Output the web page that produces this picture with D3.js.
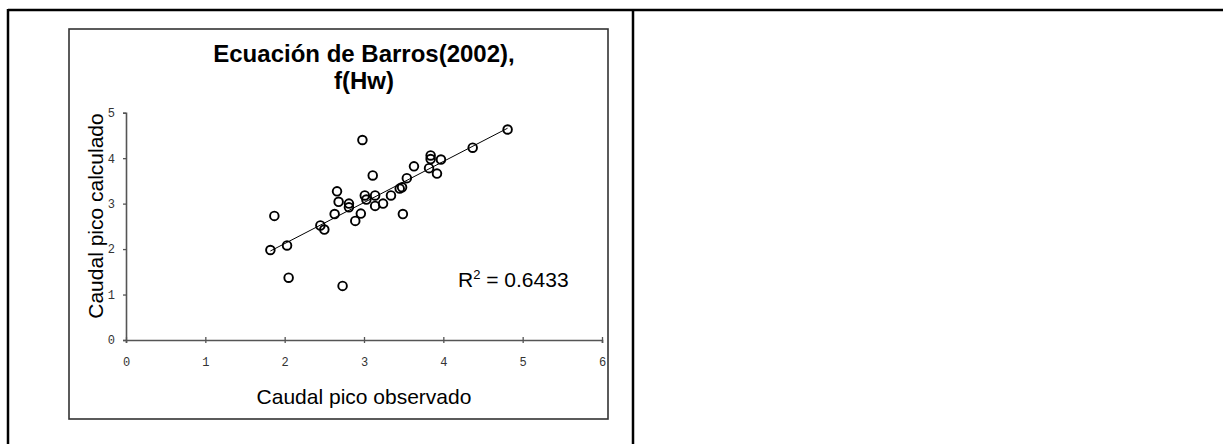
<!DOCTYPE html>
<html>
<head>
<meta charset="utf-8">
<script src="https://cdn.jsdelivr.net/npm/d3@7"></script>
<style>
  body { margin: 0; background: #fff; }
  svg { display: block; }
</style>
</head>
<body>
<svg width="1223" height="444"></svg>
<script>
// caudal pico observado (x) vs calculado (y)
var observado = [1.82, 1.87, 2.03, 2.05, 2.45, 2.50, 2.63, 2.66, 2.68, 2.73,
  2.81, 2.81, 2.89, 2.96, 2.98, 3.01, 3.03, 3.11, 3.14, 3.14,
  3.24, 3.34, 3.45, 3.48, 3.49, 3.54, 3.63, 3.82, 3.84, 3.84,
  3.92, 3.97, 4.37, 4.81];
var calculado = [1.98, 2.73, 2.08, 1.37, 2.52, 2.43, 2.77, 3.27, 3.04, 1.19,
  3.00, 2.92, 2.62, 2.78, 4.40, 3.18, 3.09, 3.62, 3.18, 2.95,
  3.00, 3.18, 3.33, 3.36, 2.77, 3.56, 3.82, 3.78, 4.06, 3.98,
  3.66, 3.97, 4.23, 4.63];
var xTicks = [0, 1, 2, 3, 4, 5, 6];
var yTicks = [0, 1, 2, 3, 4, 5];
var titleLines = ["Ecuación de Barros(2002),", "f(Hw)"];
var r2Text = "0.6433";

var svg = d3.select("svg");
var sans = "'Liberation Sans', Arial, sans-serif";

// page frame (table lines)
svg.append("line").attr("x1", 8).attr("x2", 1223).attr("y1", 10).attr("y2", 10)
  .attr("stroke", "#000").attr("stroke-width", 2.5);
svg.append("line").attr("x1", 8).attr("x2", 8).attr("y1", 9).attr("y2", 444)
  .attr("stroke", "#000").attr("stroke-width", 2.5);
svg.append("line").attr("x1", 633).attr("x2", 633).attr("y1", 9).attr("y2", 444)
  .attr("stroke", "#000").attr("stroke-width", 2.5);

// chart box
svg.append("rect")
  .attr("x", 69).attr("y", 29).attr("width", 539).attr("height", 390)
  .attr("fill", "#fff").attr("stroke", "#333").attr("stroke-width", 1.6);

var x = d3.scaleLinear().domain([0, 6]).range([126, 602]),
  y = d3.scaleLinear().domain([0, 5]).range([340, 112.7]);

var xAxis = d3.axisBottom(x).tickValues(xTicks).tickFormat(d3.format("d"))
    .tickSize(3).tickPadding(14),
  yAxis = d3.axisLeft(y).tickValues(yTicks).tickFormat(d3.format("d"))
    .tickSize(3).tickPadding(8);

var gx = svg.append("g").attr("transform", "translate(0," + y(0) + ")").call(xAxis);
var gy = svg.append("g").attr("transform", "translate(" + x(0) + ",0)").call(yAxis);

[gx, gy].forEach(function(g) {
  g.select(".domain").attr("stroke", "#555").attr("stroke-width", 1.6);
  g.selectAll(".tick line").attr("stroke", "#555").attr("stroke-width", 1.3);
  g.selectAll(".tick text")
    .attr("fill", "#333")
    .style("font-family", "'Liberation Mono', 'DejaVu Sans Mono', monospace")
    .style("font-size", "12px");
});
// x ticks cross the axis
gx.selectAll(".tick line").attr("y1", -3);

// linear trend (least squares) over the observed range
var mx = d3.mean(observado), my = d3.mean(calculado);
var sxy = d3.sum(observado, function(v, i) { return (v - mx) * (calculado[i] - my); });
var sxx = d3.sum(observado, function(v) { return (v - mx) * (v - mx); });
var slope = sxy / sxx, intercept = my - slope * mx;
var xr = d3.extent(observado);

svg.append("line")
  .attr("x1", x(xr[0])).attr("y1", y(intercept + slope * xr[0]))
  .attr("x2", x(xr[1])).attr("y2", y(intercept + slope * xr[1]))
  .attr("stroke", "#000").attr("stroke-width", 1);

svg.append("g").selectAll("circle")
  .data(observado)
  .enter()
  .append("circle")
  .attr("cx", function(d) { return x(d); })
  .attr("cy", function(d, i) { return y(calculado[i]); })
  .attr("r", 4.3)
  .attr("fill", "none")
  .attr("stroke", "#000")
  .attr("stroke-width", 1.9);

// title
svg.append("text")
  .attr("text-anchor", "middle")
  .style("font-family", sans)
  .style("font-size", "24px").style("font-weight", "bold")
  .selectAll("tspan")
  .data(titleLines)
  .enter()
  .append("tspan")
  .attr("x", 364)
  .attr("y", function(d, i) { return 62 + i * 27; })
  .text(function(d) { return d; });

// axis titles
svg.append("text")
  .attr("x", 364).attr("y", 404).attr("text-anchor", "middle")
  .style("font-family", sans)
  .style("font-size", "21px")
  .text("Caudal pico observado");

svg.append("text")
  .attr("transform", "translate(103,216) rotate(-90)")
  .attr("text-anchor", "middle")
  .style("font-family", sans)
  .style("font-size", "21px")
  .text("Caudal pico calculado");

// R squared
var r2 = svg.append("text")
  .attr("x", 458).attr("y", 287)
  .style("font-family", sans)
  .style("font-size", "21px");
r2.append("tspan").text("R");
r2.append("tspan").attr("dy", -8).style("font-size", "13px").text("2");
r2.append("tspan").attr("dy", 8).text(" = " + r2Text);
</script>
</body>
</html>
